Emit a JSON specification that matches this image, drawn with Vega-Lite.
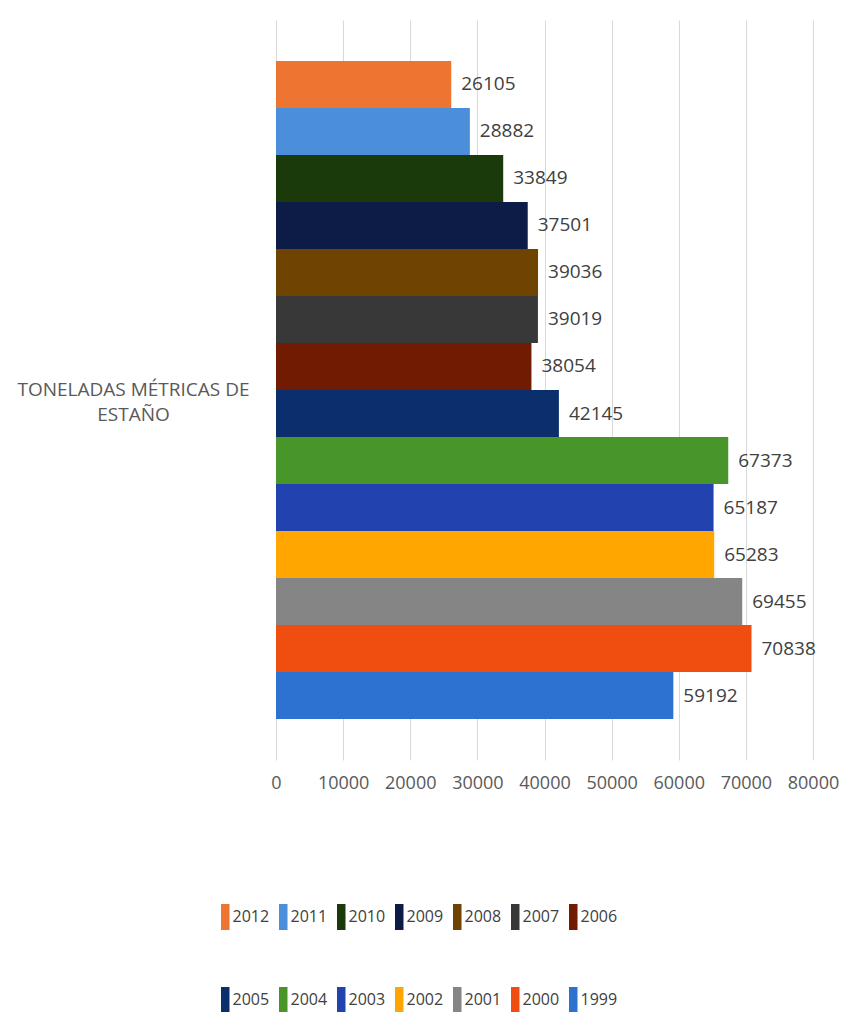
{
  "$schema": "https://vega.github.io/schema/vega-lite/v6.json",
  "autosize": {"type": "none"},
  "padding": {"left": 276, "top": 20, "right": 38, "bottom": 252},
  "width": 537,
  "height": 740,
  "background": "white",
  "config": {
    "view": {"stroke": null},
    "font": "Open Sans",
    "axis": {"labelColor": "#595959", "titleColor": "#595959"}
  },
  "data": {
    "values": [
      {"cat": "TONELADAS MÉTRICAS DE ESTAÑO", "year": "2012", "value": 26105},
      {"cat": "TONELADAS MÉTRICAS DE ESTAÑO", "year": "2011", "value": 28882},
      {"cat": "TONELADAS MÉTRICAS DE ESTAÑO", "year": "2010", "value": 33849},
      {"cat": "TONELADAS MÉTRICAS DE ESTAÑO", "year": "2009", "value": 37501},
      {"cat": "TONELADAS MÉTRICAS DE ESTAÑO", "year": "2008", "value": 39036},
      {"cat": "TONELADAS MÉTRICAS DE ESTAÑO", "year": "2007", "value": 39019},
      {"cat": "TONELADAS MÉTRICAS DE ESTAÑO", "year": "2006", "value": 38054},
      {"cat": "TONELADAS MÉTRICAS DE ESTAÑO", "year": "2005", "value": 42145},
      {"cat": "TONELADAS MÉTRICAS DE ESTAÑO", "year": "2004", "value": 67373},
      {"cat": "TONELADAS MÉTRICAS DE ESTAÑO", "year": "2003", "value": 65187},
      {"cat": "TONELADAS MÉTRICAS DE ESTAÑO", "year": "2002", "value": 65283},
      {"cat": "TONELADAS MÉTRICAS DE ESTAÑO", "year": "2001", "value": 69455},
      {"cat": "TONELADAS MÉTRICAS DE ESTAÑO", "year": "2000", "value": 70838},
      {"cat": "TONELADAS MÉTRICAS DE ESTAÑO", "year": "1999", "value": 59192}
    ]
  },
  "encoding": {
    "y": {
      "field": "cat",
      "type": "nominal",
      "title": null,
      "scale": {"paddingInner": 0, "paddingOuter": 0.0623},
      "axis": {
        "ticks": false,
        "domain": false,
        "labelPadding": 143,
        "labelAlign": "center",
        "labelBaseline": "middle",
        "labelFontSize": 19,
        "labelLimit": 400,
        "labelLineHeight": 25,
        "labelExpr": "['TONELADAS MÉTRICAS DE', 'ESTAÑO']"
      }
    },
    "yOffset": {
      "field": "year",
      "type": "nominal",
      "sort": ["2012","2011","2010","2009","2008","2007","2006","2005","2004","2003","2002","2001","2000","1999"],
      "scale": {"paddingInner": 0, "paddingOuter": 0}
    },
    "x": {
      "field": "value",
      "type": "quantitative",
      "title": null,
      "scale": {"domain": [0, 80000], "nice": false},
      "axis": {
        "values": [0,10000,20000,30000,40000,50000,60000,70000,80000],
        "format": "d",
        "ticks": false,
        "domain": false,
        "grid": true,
        "gridColor": "#D9D9D9",
        "gridWidth": 1,
        "labelPadding": 14,
        "labelFontSize": 18,
        "labelFlush": false,
        "labelOverlap": false
      }
    }
  },
  "layer": [
    {
      "mark": {"type": "bar"},
      "encoding": {
        "color": {
          "field": "year",
          "type": "nominal",
          "title": null,
          "scale": {
            "domain": ["2012","2011","2010","2009","2008","2007","2006","2005","2004","2003","2002","2001","2000","1999"],
            "range": ["#EE7431","#4B8EDA","#1B3A0B","#0D1B47","#6F4300","#383838","#701B02","#0B2F6C","#48962A","#2243AF","#FFA700","#858585","#EF4E10","#2E72CF"]
          },
          "legend": {
            "orient": "none",
            "legendX": -59.5,
            "legendY": 889,
            "direction": "horizontal",
            "columns": 7,
            "padding": 0,
            "columnPadding": 5,
            "rowPadding": 57,
            "gridAlign": "all",
            "symbolType": "M-0.7,-2.6L1,-2.6L1,2.6L-0.7,2.6Z",
            "symbolSize": 100,
            "symbolStrokeWidth": 0,
            "symbolOpacity": 1,
            "labelOffset": 0,
            "labelFontSize": 16,
            "labelColor": "#404040",
            "labelFont": "Open Sans"
          }
        }
      }
    },
    {
      "mark": {"type": "text", "align": "left", "baseline": "middle", "dx": 10, "fontSize": 19, "color": "#404040"},
      "encoding": {
        "text": {"field": "value", "type": "quantitative", "format": "d"}
      }
    }
  ]
}
